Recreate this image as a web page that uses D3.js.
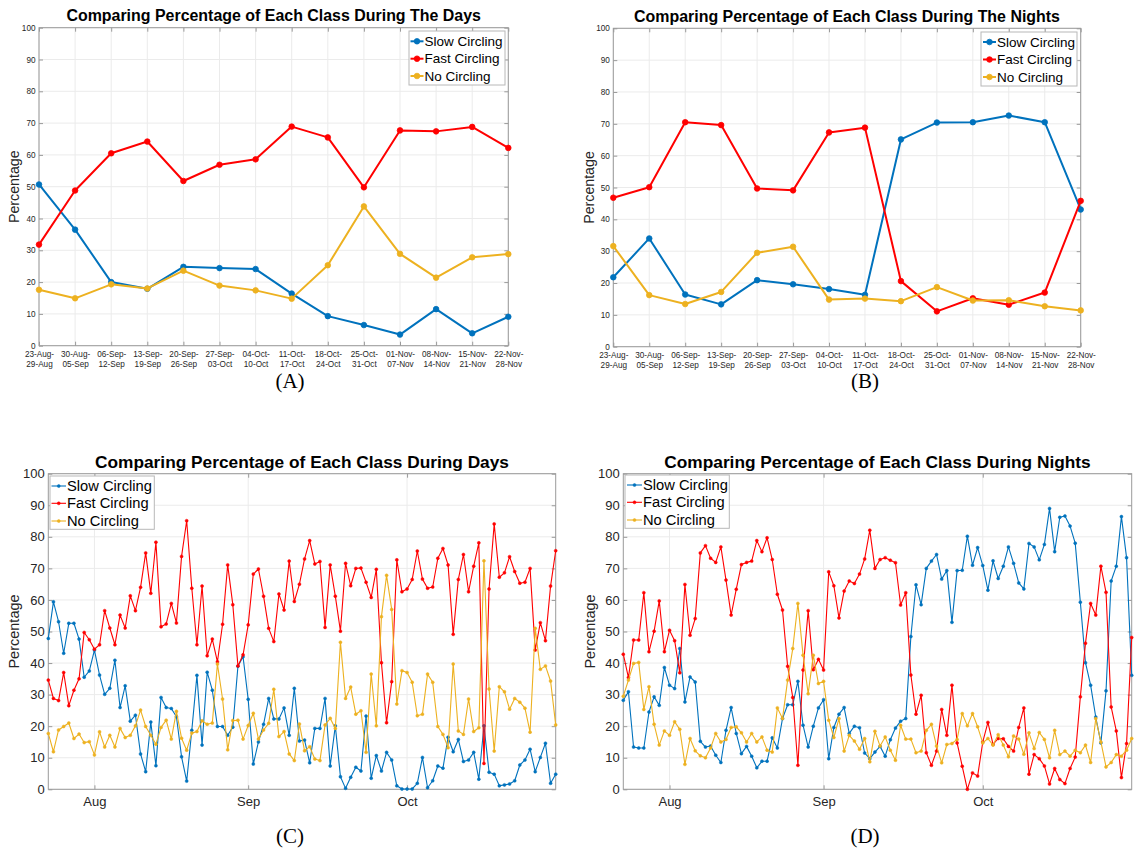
<!DOCTYPE html>
<html>
<head>
<meta charset="utf-8">
<script src="https://cdn.jsdelivr.net/npm/d3@7"></script>
<style>
  html, body { margin: 0; padding: 0; background: #ffffff; }
  svg { display: block; font-family: Helvetica, Arial, "Liberation Sans", sans-serif; }
</style>
</head>
<body>
<svg id="fig" width="1148" height="855"></svg>
<script>
// ---------- data ----------
const classNames  = ["Slow Circling", "Fast Circling", "No Circling"];
const classColors = ["#0072BD", "#FF0000", "#EDB120"];
const percentTicks = [0, 10, 20, 30, 40, 50, 60, 70, 80, 90, 100];

// weekly windows (top row)
const weekStarts = ["23-Aug-","30-Aug-","06-Sep-","13-Sep-","20-Sep-","27-Sep-","04-Oct-",
                    "11-Oct-","18-Oct-","25-Oct-","01-Nov-","08-Nov-","15-Nov-","22-Nov-"];
const weekEnds   = ["29-Aug","05-Sep","12-Sep","19-Sep","26-Sep","03-Oct","10-Oct",
                    "17-Oct","24-Oct","31-Oct","07-Nov","14-Nov","21-Nov","28-Nov"];

const weeklyDaySlow   = [50.7, 36.5, 20.0, 17.9, 24.8, 24.4, 24.1, 16.4, 9.3, 6.5, 3.5, 11.5, 3.9, 9.1];
const weeklyDayFast   = [31.8, 48.8, 60.5, 64.2, 51.8, 56.9, 58.6, 68.9, 65.5, 49.8, 67.7, 67.4, 68.8, 62.2];
const weeklyDayNone   = [17.6, 14.9, 19.3, 18.0, 23.6, 18.9, 17.4, 14.8, 25.3, 43.8, 28.9, 21.4, 27.8, 28.8];

const weeklyNightSlow = [21.8, 34.0, 16.4, 13.3, 20.9, 19.6, 18.1, 16.3, 65.1, 70.4, 70.5, 72.6, 70.5, 43.1];
const weeklyNightFast = [46.8, 50.1, 70.5, 69.6, 49.7, 49.1, 67.3, 68.8, 20.6, 11.1, 15.2, 13.2, 17.0, 45.8];
const weeklyNightNone = [31.6, 16.2, 13.4, 17.2, 29.5, 31.4, 14.8, 15.1, 14.3, 18.7, 14.5, 14.6, 12.7, 11.4];

// daily values (bottom row), one entry per day
const monthTickDays   = [9, 39, 70];
const monthTickLabels = ["Aug", "Sep", "Oct"];

const dailyDaySlow = [
  47.8, 59.4, 53.1, 43.1, 52.6, 52.6, 47.6, 35.5, 37.5, 44.1,
  36.2, 30.1, 32.0, 40.9, 25.9, 32.8, 21.6, 23.5, 11.2, 5.6,
  21.3, 7.5, 29.1, 25.9, 25.6, 23.0, 10.3, 2.6, 18.7, 36.1,
  14.0, 37.1, 31.4, 19.9, 19.9, 17.1, 19.7, 39.0, 42.0, 28.5,
  8.0, 15.0, 20.6, 28.8, 22.3, 22.3, 25.8, 17.1, 32.0, 15.3,
  15.6, 8.4, 19.3, 19.3, 28.8, 7.4, 20.1, 4.0, 0.3, 3.8,
  7.0, 5.8, 23.2, 3.5, 10.7, 5.8, 11.7, 9.3, 1.1, 0.1,
  0.1, 0.1, 1.9, 10.1, 0.5, 2.7, 7.4, 6.7, 16.5, 11.9,
  15.8, 8.8, 9.3, 11.7, 3.2, 20.1, 5.4, 4.8, 1.1, 1.4,
  1.7, 2.7, 7.7, 9.3, 12.7, 5.6, 10.1, 14.6, 1.9, 4.8
];
const dailyDayFast = [
  34.6, 28.8, 28.1, 37.0, 26.5, 31.4, 35.0, 49.7, 47.4, 44.4,
  45.8, 56.6, 51.1, 45.8, 55.2, 51.1, 61.3, 56.6, 64.0, 74.9,
  62.1, 78.3, 51.5, 52.4, 58.9, 52.7, 73.8, 85.1, 63.7, 45.8,
  64.4, 42.3, 47.6, 40.4, 52.3, 71.1, 58.5, 39.1, 42.6, 52.1,
  68.2, 69.8, 61.2, 51.0, 46.8, 61.9, 56.8, 72.3, 59.5, 65.0,
  73.0, 78.8, 71.4, 72.2, 51.3, 71.1, 61.2, 50.1, 71.6, 64.5,
  70.0, 70.1, 65.6, 60.8, 69.7, 40.1, 21.1, 34.1, 72.7, 62.6,
  63.5, 66.5, 75.5, 66.6, 63.7, 64.1, 73.2, 76.3, 71.1, 49.1,
  66.5, 74.4, 62.6, 70.7, 78.1, 8.2, 63.5, 84.1, 67.2, 68.6,
  73.7, 69.0, 65.3, 65.6, 70.0, 44.1, 52.8, 47.1, 64.4, 75.6
];
const dailyDayNone = [
  17.7, 11.9, 18.8, 19.9, 21.0, 16.1, 17.5, 14.8, 15.1, 10.9,
  18.2, 13.4, 17.1, 13.4, 19.3, 16.4, 17.1, 20.1, 25.1, 19.9,
  17.1, 14.3, 19.6, 21.9, 15.9, 24.7, 16.2, 12.4, 17.8, 18.3,
  21.7, 20.6, 21.0, 39.7, 28.6, 12.5, 21.8, 21.9, 15.9, 20.2,
  24.1, 15.9, 18.8, 20.9, 31.7, 16.7, 18.3, 11.2, 9.1, 20.7,
  12.2, 13.5, 9.6, 9.1, 20.4, 22.5, 19.3, 46.6, 28.8, 32.4,
  23.8, 24.9, 11.7, 36.5, 20.1, 54.7, 67.8, 57.0, 27.0, 37.6,
  37.0, 33.9, 23.3, 23.8, 36.5, 33.9, 19.9, 17.4, 13.2, 39.7,
  18.5, 17.4, 28.6, 18.3, 19.5, 72.4, 31.8, 12.1, 32.5, 30.9,
  25.4, 28.8, 27.6, 25.7, 18.1, 51.0, 38.0, 39.1, 34.3, 20.4
];

const dailyNightSlow = [
  28.2, 30.9, 13.4, 13.1, 13.1, 24.5, 29.3, 26.6, 38.6, 33.0,
  31.9, 44.6, 27.7, 35.6, 34.0, 15.2, 13.4, 13.7, 10.8, 8.5,
  18.7, 25.9, 17.7, 11.3, 13.6, 10.5, 6.8, 8.9, 8.9, 16.3,
  13.1, 22.4, 26.8, 26.8, 34.2, 20.3, 13.4, 20.0, 25.8, 28.4,
  9.7, 19.6, 23.8, 25.9, 17.7, 20.0, 19.5, 11.5, 9.7, 11.8,
  13.6, 10.5, 15.7, 19.4, 21.6, 22.4, 48.4, 64.8, 58.5, 70.0,
  72.3, 74.4, 66.6, 69.3, 52.9, 69.3, 69.4, 80.2, 71.0, 76.6,
  70.9, 63.1, 72.4, 66.8, 70.7, 76.8, 71.6, 65.4, 63.5, 77.9,
  76.8, 72.7, 77.6, 89.0, 75.3, 86.2, 86.6, 83.4, 78.0, 59.3,
  40.1, 33.0, 22.9, 14.7, 31.2, 66.0, 70.7, 86.4, 73.4, 36.1
];
const dailyNightFast = [
  42.8, 35.4, 47.3, 47.3, 62.3, 43.6, 50.1, 59.7, 43.6, 50.4,
  47.1, 36.9, 64.9, 48.8, 54.1, 74.9, 77.2, 73.2, 71.9, 76.8,
  66.3, 55.2, 63.4, 71.2, 71.9, 72.3, 78.8, 75.3, 79.7, 72.8,
  61.8, 56.8, 39.0, 29.1, 7.6, 37.8, 56.6, 37.9, 41.2, 37.8,
  68.9, 64.5, 54.3, 62.8, 66.0, 65.2, 68.2, 73.0, 82.1, 70.0,
  72.8, 73.4, 72.6, 71.8, 58.4, 62.3, 36.2, 23.8, 29.8, 11.6,
  7.6, 12.1, 25.3, 17.1, 33.0, 14.7, 7.3, 0.0, 5.2, 4.2,
  15.0, 21.2, 14.2, 16.1, 16.0, 13.6, 12.1, 19.6, 25.8, 4.8,
  11.0, 9.7, 7.4, 1.7, 6.6, 3.1, 1.8, 6.6, 10.2, 29.3,
  46.3, 58.9, 55.2, 70.7, 62.4, 26.1, 18.5, 3.7, 14.5, 48.1
];
const dailyNightNone = [
  29.5, 34.6, 39.9, 40.2, 25.3, 32.5, 20.6, 14.0, 18.5, 17.1,
  21.4, 19.0, 7.9, 16.1, 12.2, 10.6, 10.0, 13.1, 17.7, 15.0,
  15.8, 19.6, 19.8, 17.9, 15.0, 17.7, 15.0, 16.6, 12.4, 11.8,
  25.8, 22.4, 34.6, 44.6, 58.9, 42.5, 30.3, 42.5, 33.5, 34.2,
  21.9, 16.4, 22.4, 12.1, 17.1, 15.3, 12.7, 16.1, 8.7, 18.4,
  13.7, 16.6, 12.4, 9.2, 20.3, 15.9, 15.9, 11.6, 12.1, 18.7,
  20.6, 13.7, 8.4, 14.2, 14.5, 15.8, 24.0, 20.1, 24.0, 19.8,
  14.7, 16.1, 14.0, 17.3, 14.0, 10.3, 16.9, 15.9, 11.1, 17.9,
  12.9, 18.0, 15.8, 10.0, 18.7, 11.0, 12.1, 10.5, 12.4, 11.6,
  14.0, 8.5, 22.4, 15.0, 7.1, 8.5, 11.0, 10.5, 12.4, 16.1
];

// ---------- drawing ----------
const svg = d3.select("#fig");
const inkColor = "#262626";
const frameColor = "#9a9a9a";
const gridColor = "#ebebeb";

function drawPanel(o) {
  const g = svg.append("g");
  const n = o.series[0].length;
  const x = d3.scaleLinear().domain([0, n - 1]).range([o.box.l, o.box.r]);
  const y = d3.scaleLinear().domain([0, 100]).range([o.box.b, o.box.t]);
  const xGrid = o.weekly ? d3.range(n) : monthTickDays;

  // grid
  g.append("g").selectAll("line").data(percentTicks).join("line")
    .attr("x1", o.box.l).attr("x2", o.box.r)
    .attr("y1", d => y(d)).attr("y2", d => y(d))
    .attr("stroke", gridColor).attr("stroke-width", 1);
  g.append("g").selectAll("line").data(xGrid).join("line")
    .attr("x1", d => x(d)).attr("x2", d => x(d))
    .attr("y1", o.box.t).attr("y2", o.box.b)
    .attr("stroke", gridColor).attr("stroke-width", 1);

  // y axis (left labels, ticks inside) and right-side ticks
  const yAx = g.append("g").attr("transform", `translate(${o.box.l},0)`)
    .call(d3.axisLeft(y).tickValues(percentTicks).tickSizeInner(-4).tickSizeOuter(0).tickPadding(o.tickPad));
  const yAxR = g.append("g").attr("transform", `translate(${o.box.r},0)`)
    .call(d3.axisRight(y).tickValues(percentTicks).tickSizeInner(-4).tickSizeOuter(0).tickFormat(""));

  // x axis
  let xAx;
  if (o.weekly) {
    xAx = g.append("g").attr("transform", `translate(0,${o.box.b})`)
      .call(d3.axisBottom(x).tickValues(d3.range(n)).tickSizeInner(-4).tickSizeOuter(0));
    xAx.selectAll(".tick text").each(function (d) {
      const t = d3.select(this).text(null).attr("y", null).attr("dy", null);
      t.append("tspan").attr("x", 0).attr("y", o.xLab1).text(weekStarts[d]);
      t.append("tspan").attr("x", 0).attr("y", o.xLab2).text(weekEnds[d]);
    });
  } else {
    xAx = g.append("g").attr("transform", `translate(0,${o.box.b})`)
      .call(d3.axisBottom(x).tickValues(monthTickDays).tickSizeInner(-4).tickSizeOuter(0)
        .tickPadding(o.xPad).tickFormat((d, i) => monthTickLabels[i]));
  }
  const xAxTop = g.append("g").attr("transform", `translate(0,${o.box.t})`)
    .call(d3.axisTop(x).tickValues(xGrid).tickSizeInner(-4).tickSizeOuter(0).tickFormat(""));

  [yAx, yAxR, xAx, xAxTop].forEach(a => {
    a.select(".domain").remove();
    a.selectAll(".tick line").attr("stroke", frameColor);
    a.selectAll(".tick text").attr("fill", inkColor).style("font-size", o.tickFont + "px")
      .style("font-family", "Helvetica, Arial, 'Liberation Sans', sans-serif");
  });

  // frame
  g.append("rect").attr("x", o.box.l).attr("y", o.box.t)
    .attr("width", o.box.r - o.box.l).attr("height", o.box.b - o.box.t)
    .attr("fill", "none").attr("stroke", frameColor).attr("stroke-width", 1);

  // series
  const line = d3.line().x((d, i) => x(i)).y(d => y(d));
  o.series.forEach((vals, k) => {
    const sg = g.append("g");
    sg.append("path").datum(vals).attr("d", line)
      .attr("fill", "none").attr("stroke", classColors[k])
      .attr("stroke-width", o.lineW).attr("stroke-linejoin", "round");
    sg.selectAll("circle").data(vals).join("circle")
      .attr("cx", (d, i) => x(i)).attr("cy", d => y(d)).attr("r", o.markR)
      .attr("fill", classColors[k]).attr("stroke", classColors[k])
      .attr("stroke-width", o.markStroke);
  });

  // title
  g.append("text").attr("x", (o.box.l + o.box.r) / 2).attr("y", o.titleY)
    .attr("text-anchor", "middle").attr("font-weight", "bold")
    .style("font-size", o.titleFont + "px").attr("fill", "#000").text(o.title);

  // y label
  g.append("text").attr("transform", `translate(${o.yLabX},${(o.box.t + o.box.b) / 2}) rotate(-90)`)
    .attr("text-anchor", "middle").attr("dy", "0.35em")
    .style("font-size", o.yLabFont + "px").attr("fill", inkColor).text("Percentage");

  // legend
  const L = o.legend;
  g.append("rect").attr("x", L.x).attr("y", L.y).attr("width", L.w).attr("height", L.h)
    .attr("fill", "#fff").attr("stroke", "#b8b8b8").attr("stroke-width", 1);
  classNames.forEach((name, k) => {
    const cy = L.rows[k];
    g.append("line").attr("x1", L.lx1).attr("x2", L.lx2).attr("y1", cy).attr("y2", cy)
      .attr("stroke", classColors[k]).attr("stroke-width", o.lineW);
    g.append("circle").attr("cx", (L.lx1 + L.lx2) / 2).attr("cy", cy).attr("r", o.markR)
      .attr("fill", classColors[k]).attr("stroke", classColors[k]).attr("stroke-width", o.markStroke);
    g.append("text").attr("x", L.tx).attr("y", cy).attr("dy", "0.35em")
      .style("font-size", L.font + "px").attr("fill", "#000").text(name);
  });

  // panel tag
  svg.append("text").attr("x", o.tag.x).attr("y", o.tag.y).attr("text-anchor", "middle")
    .style("font-family", "'Liberation Serif', 'DejaVu Serif', serif").style("font-size", "21px")
    .attr("fill", "#000").text(o.tag.text);
}

const weeklyStyle = { weekly: true, tickFont: 8.2, tickPad: 3.5, lineW: 2, markR: 2.8, markStroke: 0.8,
                      titleFont: 15.95, yLabFont: 14.2 };
const dailyStyle  = { weekly: false, tickFont: 13, tickPad: 3.5, xPad: 7, lineW: 1.1, markR: 1.5, markStroke: 0.5,
                      titleFont: 17.3, yLabFont: 14.5 };

drawPanel(Object.assign({}, weeklyStyle, {
  box: { l: 39, r: 508.3, t: 27.7, b: 345.7 },
  series: [weeklyDaySlow, weeklyDayFast, weeklyDayNone],
  title: "Comparing Percentage of Each Class During The Days", titleY: 21,
  xLab1: 11.3, xLab2: 21.8, yLabX: 14,
  legend: { x: 409, y: 31, w: 96, h: 54, rows: [41.3, 58.7, 76], lx1: 410.5, lx2: 423.5, tx: 424.5, font: 13.5 },
  tag: { x: 290, y: 388, text: "(A)" }
}));

drawPanel(Object.assign({}, weeklyStyle, {
  box: { l: 613.3, r: 1080.7, t: 28.3, b: 346.7 },
  series: [weeklyNightSlow, weeklyNightFast, weeklyNightNone],
  title: "Comparing Percentage of Each Class During The Nights", titleY: 21.5,
  xLab1: 11.3, xLab2: 21.8, yLabX: 589,
  legend: { x: 981, y: 32, w: 96, h: 54, rows: [42, 59.5, 77], lx1: 983, lx2: 996, tx: 997, font: 13.5 },
  tag: { x: 865, y: 388, text: "(B)" }
}));

drawPanel(Object.assign({}, dailyStyle, {
  box: { l: 48.3, r: 555.7, t: 473.7, b: 789.3 },
  series: [dailyDaySlow, dailyDayFast, dailyDayNone],
  title: "Comparing Percentage of Each Class During Days", titleY: 467.5,
  yLabX: 14,
  legend: { x: 50, y: 476, w: 104.3, h: 53.3, rows: [486, 503.3, 521], lx1: 51.5, lx2: 66, tx: 67, font: 14.7 },
  tag: { x: 290, y: 843, text: "(C)" }
}));

drawPanel(Object.assign({}, dailyStyle, {
  box: { l: 623.3, r: 1131.7, t: 473.7, b: 789.3 },
  series: [dailyNightSlow, dailyNightFast, dailyNightNone],
  title: "Comparing Percentage of Each Class During Nights", titleY: 467.5,
  yLabX: 589.5,
  legend: { x: 625, y: 475, w: 104.3, h: 53.3, rows: [485, 502.3, 520], lx1: 627, lx2: 642, tx: 643, font: 14.7 },
  tag: { x: 865, y: 843, text: "(D)" }
}));
</script>
</body>
</html>
